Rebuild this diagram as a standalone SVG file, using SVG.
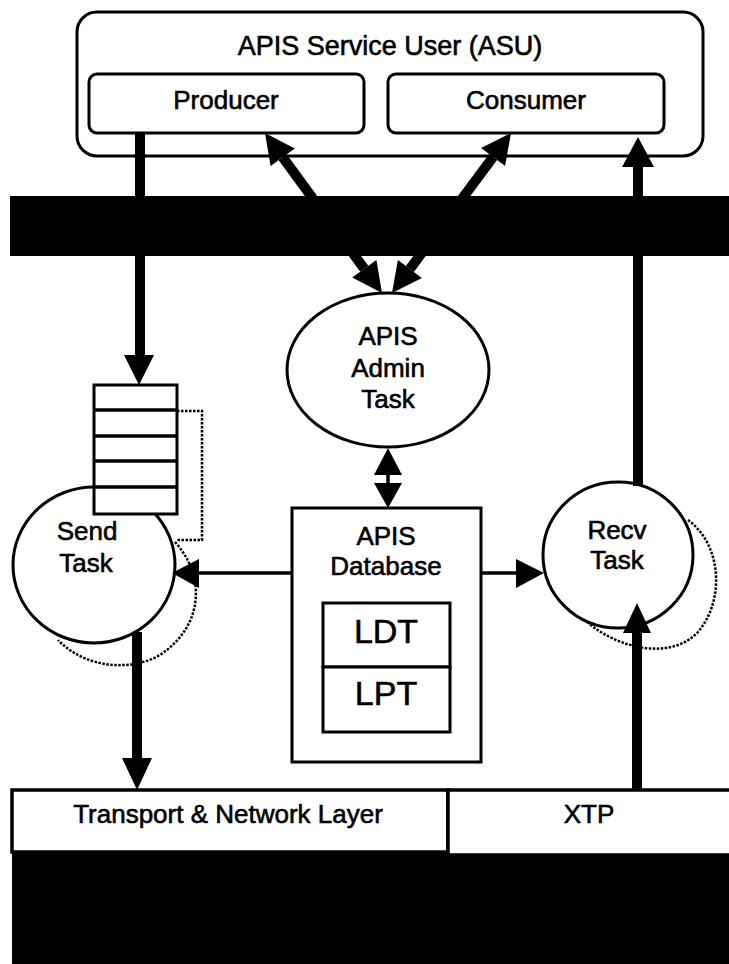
<svg xmlns="http://www.w3.org/2000/svg" width="729" height="964" viewBox="0 0 729 964">
  <style>
    .box { fill: #fff; stroke: #000; stroke-width: 3; }
    .lbl { font-family: "Liberation Sans", Arial, sans-serif; font-size: 26px; fill: #000; stroke: #000; stroke-width: 0.6; text-anchor: middle; }
    .big { font-size: 34px; }
    .thick { stroke: #000; stroke-width: 10; fill: none; }
    .thin { stroke: #000; stroke-width: 3.5; fill: none; }
    .dots { stroke: #000; stroke-width: 2.5; fill: none; stroke-dasharray: 2.5 1.5; }
    .head { fill: #000; stroke: none; }
  </style>

  <rect width="729" height="964" fill="#fff"/>

  <!-- black interface band -->
  <rect x="10" y="196" width="719" height="60" fill="#000"/>

  <!-- service user with producer and consumer -->
  <g id="asu">
    <rect class="box" x="77" y="12" width="626" height="144" rx="20"/>
    <text class="lbl" x="390" y="55" style="font-size:27px">APIS Service User (ASU)</text>
  </g>
  <g id="producer">
    <rect class="box" x="89" y="74" width="275" height="59" rx="8"/>
    <text class="lbl" x="226" y="109">Producer</text>
  </g>
  <g id="consumer">
    <rect class="box" x="388" y="74" width="276" height="59" rx="8"/>
    <text class="lbl" x="526" y="109">Consumer</text>
  </g>

  <!-- tasks -->
  <g id="admin-task">
    <ellipse class="box" cx="388" cy="370" rx="101" ry="77"/>
    <text class="lbl" x="388" y="345">APIS</text>
    <text class="lbl" x="388" y="377">Admin</text>
    <text class="lbl" x="388" y="408">Task</text>
  </g>

  <g id="send-task">
    <ellipse class="box" cx="94" cy="565" rx="81" ry="78"/>
    <text class="lbl" x="87" y="540">Send</text>
    <text class="lbl" x="86" y="572">Task</text>
  </g>

  <g id="queue">
    <rect class="box" x="94" y="385" width="83" height="129"/>
    <line class="thin" x1="94" y1="410" x2="177" y2="410"/>
    <line class="thin" x1="94" y1="436" x2="177" y2="436"/>
    <line class="thin" x1="94" y1="461" x2="177" y2="461"/>
    <line class="thin" x1="94" y1="487" x2="177" y2="487"/>
  </g>

  <g id="recv-task">
    <ellipse class="box" cx="618" cy="555" rx="75" ry="73"/>
    <text class="lbl" x="617" y="539">Recv</text>
    <text class="lbl" x="617" y="569">Task</text>
  </g>

  <!-- database with its tables -->
  <g id="database">
    <rect class="box" x="292" y="508" width="189" height="254"/>
    <text class="lbl" x="386" y="545">APIS</text>
    <text class="lbl" x="386" y="575">Database</text>
  </g>
  <g id="ldt">
    <rect class="box" x="323" y="603" width="127" height="64"/>
    <text class="lbl big" x="386" y="643">LDT</text>
  </g>
  <g id="lpt">
    <rect class="box" x="323" y="667" width="127" height="65"/>
    <text class="lbl big" x="386" y="705">LPT</text>
  </g>

  <!-- lower layers -->
  <rect x="12" y="852" width="717" height="112" fill="#000"/>
  <g id="transport">
    <rect x="12" y="790" width="436" height="62" fill="#fff" stroke="#000" stroke-width="3.5"/>
    <text class="lbl" x="228" y="823">Transport &amp; Network Layer</text>
  </g>
  <g id="xtp">
    <rect x="448" y="790" width="283" height="65" fill="#fff" stroke="#000" stroke-width="3.5"/>
    <text class="lbl" x="589" y="823">XTP</text>
  </g>

  <g id="connectors">
    <!-- producer to queue -->
    <line class="thick" x1="140" y1="133" x2="140" y2="356"/>
    <polygon class="head" points="124,355 154,355 139,385"/>

    <!-- producer <-> admin task -->
    <line class="thick" x1="282.7" y1="157.2" x2="364.3" y2="268.8"/>
    <polygon class="head" points="265,133 270.6,166.1 294.8,148.4"/>
    <polygon class="head" points="382,293 352.2,277.6 376.4,259.9"/>

    <!-- consumer <-> admin task -->
    <line class="thick" x1="493.1" y1="157.1" x2="409.9" y2="268.9"/>
    <polygon class="head" points="511,133 481.1,148.1 505.1,166.1"/>
    <polygon class="head" points="392,293 397.9,259.9 421.9,277.9"/>

    <!-- admin task <-> database -->
    <line class="thin" x1="388" y1="470" x2="388" y2="486"/>
    <polygon class="head" points="388,448 374,475 402,475"/>
    <polygon class="head" points="374,483 402,483 388,508"/>

    <!-- database to send / recv tasks -->
    <line class="thin" x1="292" y1="573" x2="196" y2="573"/>
    <polygon class="head" points="172,573 199,559 199,588"/>
    <line class="thin" x1="481" y1="573" x2="518" y2="573"/>
    <polygon class="head" points="544,573 516,559 516,588"/>

    <!-- recv task to ASU -->
    <line class="thick" x1="638" y1="486" x2="638" y2="165"/>
    <polygon class="head" points="638,137 622,167 654,167"/>

    <!-- send task to transport -->
    <line class="thick" x1="137" y1="632" x2="137" y2="760"/>
    <polygon class="head" points="122,758 152,758 137,790"/>

    <!-- transport to recv task -->
    <line class="thick" x1="637" y1="790" x2="637" y2="630"/>
    <polygon class="head" points="637,603 623,633 651,633"/>

    <!-- dotted loops -->
    <path class="dots" d="M177,411 H202 V540 H176"/>
    <path class="dots" d="M175,542 C205,575 205,625 160,655 C130,672 85,668 58,640"/>
    <path class="dots" d="M688,520 C722,545 725,600 698,632 C672,660 620,650 587,622"/>
  </g>
</svg>
